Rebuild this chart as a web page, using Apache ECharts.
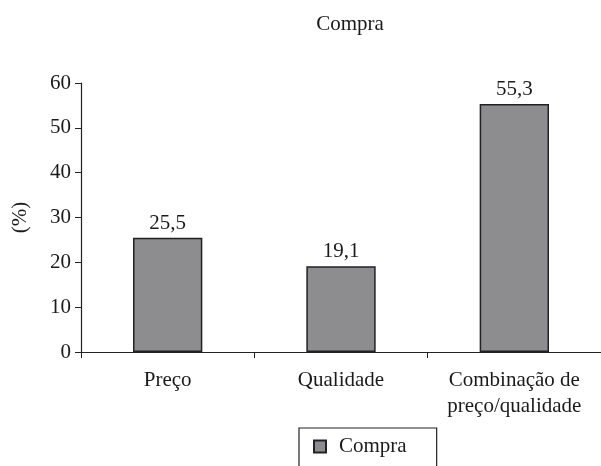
<!DOCTYPE html>
<html><head><meta charset="utf-8">
<script src="https://cdn.jsdelivr.net/npm/echarts@6/dist/echarts.min.js"></script>
<style>html,body{margin:0;padding:0;background:#fff}#c{width:601px;height:466px}</style>
</head><body><div id="c"></div>
<script>
const categories = ['Preço', 'Qualidade', 'Combinação de\npreço/qualidade'];
const values = [25.5, 19.1, 55.3];
const seriesName = 'Compra';
const yTicks = [0, 10, 20, 30, 40, 50, 60];

const font = 'Liberation Serif';
const fs = 21;
const chart = echarts.init(document.getElementById('c'));
chart.setOption({
  animation: false,
  title: { text: 'Compra', left: 345, top: 9, textAlign: 'center',
    textStyle: { fontFamily: font, fontSize: fs, fontWeight: 'normal', color: '#1a1a1a' } },
  grid: { left: 81, right: 0, top: 83, bottom: 114, containLabel: false },
  legend: {
    data: [seriesName], top: 428, left: 299,
    borderColor: '#222', borderWidth: 1.2, padding: [8, 30, 14, 14],
    itemWidth: 12, itemHeight: 12, itemGap: 10,
    textStyle: { fontFamily: font, fontSize: fs, color: '#1a1a1a', padding: [0, 0, 0, 8] },
    icon: 'rect'
  },
  xAxis: {
    type: 'category', data: categories,
    axisLine: { lineStyle: { color: '#222', width: 1.2 } },
    axisTick: { show: true, alignWithLabel: false, interval: 0, length: 6, lineStyle: { color: '#222' } },
    axisLabel: { interval: 0, hideOverlap: false, fontFamily: font, fontSize: fs, color: '#1a1a1a', margin: 15, lineHeight: 26 }
  },
  yAxis: {
    type: 'value', min: 0, max: 60, interval: 10,
    name: '(%)', nameLocation: 'middle', nameGap: 50, nameRotate: 90,
    nameTextStyle: { fontFamily: font, fontSize: fs, color: '#1a1a1a' },
    splitLine: { show: false },
    axisLine: { show: true, lineStyle: { color: '#222', width: 1.2 } },
    axisTick: { show: true, length: 6, lineStyle: { color: '#222' } },
    axisLabel: { fontFamily: font, fontSize: fs, color: '#1a1a1a', margin: 10 }
  },
  series: [{
    name: seriesName, type: 'bar', data: values, barWidth: '40%',
    itemStyle: { color: '#8d8d90', borderColor: '#222', borderWidth: 1.5 },
    label: { show: true, position: 'top', distance: 4, fontFamily: font, fontSize: fs, color: '#1a1a1a',
      formatter: p => String(p.value).replace('.', ',') }
  }]
});
</script></body></html>
